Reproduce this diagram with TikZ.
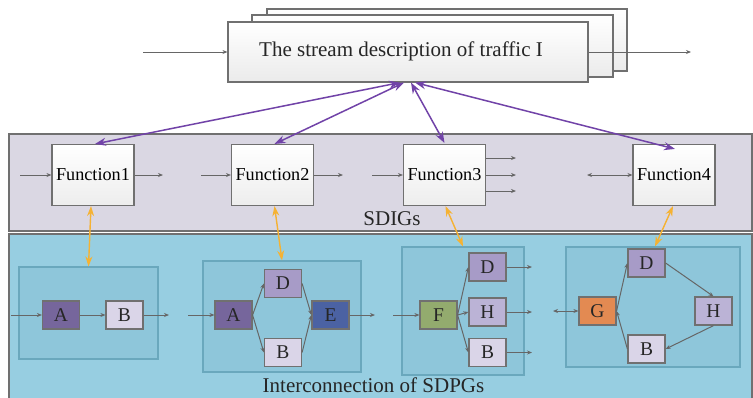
\documentclass[tikz,border=0pt]{standalone}
\usepackage{fontspec}
\setmainfont{Liberation Serif}
\usetikzlibrary{arrows.meta,positioning,calc}

\definecolor{frameg}{HTML}{707070}
\definecolor{lineg}{HTML}{666666}
\definecolor{sdigbg}{HTML}{DAD7E3}
\definecolor{sdpgbg}{HTML}{97CEE1}
\definecolor{groupbg}{HTML}{8EC6DA}
\definecolor{groupfr}{HTML}{6AA8BD}
\definecolor{purp}{HTML}{7143A8}
\definecolor{orng}{HTML}{F5B233}
\definecolor{colA}{HTML}{76669C}
\definecolor{colB}{HTML}{DAD5E8}
\definecolor{colD}{HTML}{A79BC7}
\definecolor{colE}{HTML}{4B62A3}
\definecolor{colH}{HTML}{BBB3D6}
\definecolor{colF}{HTML}{93AB6E}
\definecolor{colG}{HTML}{E38A52}

\tikzset{
  stackbox/.style={draw=frameg, line width=1.1pt, top color=white, bottom color=gray!16,
    minimum width=360pt, minimum height=61pt, inner sep=0pt},
  funcbox/.style={draw=frameg, line width=1.1pt, top color=white, bottom color=gray!14,
    minimum width=82pt, minimum height=61pt, inner sep=0pt,
    font=\fontsize{18.2}{20}\selectfont},
  group/.style={draw=groupfr, line width=1.1pt, fill=groupbg, inner sep=0pt},
  elem/.style={draw=frameg, line width=1.2pt, minimum width=37pt, minimum height=28pt,
    inner sep=0pt, font=\fontsize{19.5}{20}\selectfont, text=black!85},
  flow/.style={draw=lineg, line width=1pt, -{Stealth[length=5pt,width=4pt]}},
  flow2/.style={draw=lineg, line width=1pt, {Stealth[length=5pt,width=4pt]}-{Stealth[length=5pt,width=4pt]}},
  plink/.style={draw=purp, line width=1.5pt, {Stealth[length=11pt,width=8pt]}-{Stealth[length=11pt,width=8pt]}},
  olink/.style={draw=orng, line width=1.4pt, {Stealth[length=10pt,width=7pt]}-{Stealth[length=10pt,width=7pt]}},
  biglabel/.style={font=\fontsize{21}{24}\selectfont, text=black!85, inner sep=0pt, anchor=base}
}

\begin{document}
\begin{tikzpicture}[x=1pt,y=-1pt]
\useasboundingbox (0,0) rectangle (753,397);

% layer bands
\path[draw=frameg, line width=1.1pt, fill=sdigbg] (9,134) rectangle (752,231);
\path[draw=frameg, line width=1.1pt, fill=sdpgbg] (9,234) rectangle (752,402);

% stacked stream description sheets
\node[stackbox, minimum width=360pt, minimum height=62pt] (back) at (447,40) {};
\node[stackbox, minimum width=361pt, minimum height=62pt] (mid) at (432.5,46) {};
\node[stackbox, minimum height=60pt] (front) at (408,52) {};
\node[biglabel, anchor=center] (title) at (401,51)
  {The stream description of traffic I};
\coordinate (sin) at (143,52);
\coordinate (sout) at (691,52);
\draw[flow] (sin) -- (front.west);
\draw[flow] (front.east) -- (sout);

% functions
\node[funcbox] (f1) at (93,175) {Function1};
\node[funcbox] (f2) at (272.5,175) {Function2};
\node[funcbox] (f3) at (444.5,175) {Function3};
\node[funcbox] (f4) at (674,175) {Function4};
\node[biglabel] (sdigs) at (392,225) {SDIGs};

\coordinate (f1i) at (20,175);   \coordinate (f1o) at (163,175);
\coordinate (f2i) at (201,175);  \coordinate (f2o) at (343,175);
\coordinate (f3i) at (372,175);
\coordinate (f3a) at (516,158);  \coordinate (f3b) at (516,175);  \coordinate (f3c) at (516,191);
\coordinate (f4i) at (587,175);
\draw[flow] (f1i) -- (f1.west);
\draw[flow] (f1.east) -- (f1o);
\draw[flow] (f2i) -- (f2.west);
\draw[flow] (f2.east) -- (f2o);
\draw[flow] (f3i) -- (f3.west);
\draw[flow] (f3.east |- f3a) -- (f3a);
\draw[flow] (f3.east) -- (f3b);
\draw[flow] (f3.east |- f3c) -- (f3c);
\draw[flow2] (f4i) -- (f4.west);

% groups of the SDPG layer
\node[group, minimum width=139pt, minimum height=92pt] (g1) at (88.5,313) {};
\node[group, minimum width=158pt, minimum height=111pt] (g2) at (282,316.5) {};
\node[group, minimum width=122pt, minimum height=128pt] (g3) at (463,311) {};
\node[group, minimum width=174pt, minimum height=120pt] (g4) at (653,307) {};
\node[biglabel] (sdpgs) at (373.5,392) {Interconnection of SDPGs};

% links between the layers
\draw[plink] ([xshift=-8pt]front.south) -- ([xshift=2pt]f1.north);
\draw[plink] ([xshift=-4pt]front.south) -- ([xshift=2pt]f2.north);
\draw[plink] ([xshift=3pt]front.south) -- ([xshift=0pt,yshift=1pt]f3.north);
\draw[plink] ([xshift=7pt]front.south) -- ([xshift=1pt,yshift=-5pt]f4.north);

\draw[olink] ([xshift=-2pt]f1.south) -- (g1.north);
\draw[olink] ([xshift=2pt]f2.south) -- (g2.north);
\draw[olink] ([xshift=1pt]f3.south) -- (g3.north);
\draw[olink] ([xshift=-1pt]f4.south) -- ([xshift=2pt]g4.north);

% group 1
\node[elem, fill=colA] (a1) at (61,315) {A};
\node[elem, fill=colB] (b1) at (124.5,315) {B};
\coordinate (a1i) at (11,315); \coordinate (b1o) at (169,315);
\draw[flow] (a1i) -- (a1.west);
\draw[flow] (a1) -- (b1);
\draw[flow] (b1.east) -- (b1o);

% group 2
\node[elem, fill=colA] (a2) at (233.5,315) {A};
\node[elem, fill=colD] (d2) at (283,283.5) {D};
\node[elem, fill=colB] (b2) at (283,352.5) {B};
\node[elem, fill=colE] (e2) at (330.5,315) {E};
\coordinate (a2i) at (188,315); \coordinate (e2o) at (375,315);
\draw[flow] (a2i) -- (a2.west);
\draw[flow] (a2.east) -- (d2.west);
\draw[flow] (a2.east) -- (b2.west);
\draw[flow] (d2.east) -- (e2.west);
\draw[flow] (b2.east) -- (e2.west);
\draw[flow] (e2.east) -- (e2o);

% group 3
\node[elem, fill=colF] (f) at (438.5,315) {F};
\node[elem, fill=colD] (d3) at (487.5,267) {D};
\node[elem, fill=colH] (h3) at (487.5,312) {H};
\node[elem, fill=colB] (b3) at (487.5,352.5) {B};
\coordinate (fi) at (393,315);
\coordinate (d3o) at (532,267); \coordinate (h3o) at (532,312); \coordinate (b3o) at (532,352.5);
\draw[flow] (fi) -- (f.west);
\draw[flow] (f.east) -- (d3.west);
\draw[flow] (f.east) -- (h3.west);
\draw[flow] (f.east) -- (b3.west);
\draw[flow] (d3.east) -- (d3o);
\draw[flow] (h3.east) -- (h3o);
\draw[flow] (b3.east) -- (b3o);

% group 4
\node[elem, fill=colG] (g) at (597.5,311) {G};
\node[elem, fill=colD] (d4) at (646.5,263) {D};
\node[elem, fill=colH] (h4) at (713.5,311) {H};
\node[elem, fill=colB] (b4) at (646.5,349) {B};
\coordinate (gi) at (553,311);
\draw[flow2] (gi) -- (g.west);
\draw[flow] (g.east) -- (d4.west);
\draw[flow] (d4.east) -- (h4.north);
\draw[flow] (h4.south) -- (b4.east);
\draw[flow] (b4.west) -- (g.east);
\end{tikzpicture}
\end{document}
